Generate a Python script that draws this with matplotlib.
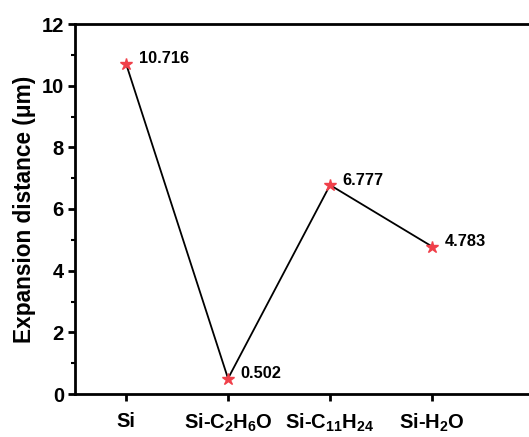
import numpy as np
import matplotlib.pyplot as plt
from matplotlib.ticker import MultipleLocator

plt.rcParams['font.family'] = ['Liberation Sans', 'DejaVu Sans']
plt.rcParams['mathtext.fontset'] = 'custom'
plt.rcParams['mathtext.rm'] = 'Liberation Sans:bold'
plt.rcParams['mathtext.bf'] = 'Liberation Sans:bold'

samples = ['Si', r'Si-C$_2$H$_6$O', r'Si-C$_{11}$H$_{24}$', r'Si-H$_2$O']
distance = [10.716, 0.502, 6.777, 4.783]
labels = ['10.716', '0.502', '6.777', '4.783']

fig = plt.figure(figsize=(5.29, 4.37), dpi=100)
ax = fig.add_axes([75 / 529, 43 / 437, 455 / 529, 370 / 437])

x = np.arange(1, len(samples) + 1)
ax.plot(x, distance, color='black', linewidth=1.3, zorder=2)
ax.plot(x, distance, linestyle='none', marker='*', markersize=9,
        color='#f0404a', markeredgecolor='#f0404a', zorder=3)

for xi, yi, lab in zip(x, distance, labels):
    ax.annotate(lab, (xi, yi), xytext=(9, 3.5), textcoords='offset points',
                ha='left', va='center', fontsize=11.8, fontweight='bold')

ax.set_xlim(0.5, 4.96)
ax.set_ylim(0, 12)
ax.set_xticks(x)
ax.set_xticklabels(samples, fontsize=14.5, fontweight='bold')
ax.yaxis.set_major_locator(MultipleLocator(2))
ax.yaxis.set_minor_locator(MultipleLocator(1))
for t in ax.get_yticklabels():
    t.set_fontweight('bold')
    t.set_fontsize(14.5)
ax.set_ylabel('Expansion distance (μm)', fontsize=16.3, fontweight='bold', labelpad=4)

for s in ['left', 'bottom', 'top']:
    ax.spines[s].set_linewidth(2)
ax.spines['right'].set_visible(False)
ax.tick_params(axis='both', which='major', direction='out', length=5, width=2, pad=3)
ax.tick_params(axis='y', which='minor', direction='out', length=3, width=1.5)
ax.tick_params(axis='x', pad=8)

fig.savefig('out.png', dpi=100)
